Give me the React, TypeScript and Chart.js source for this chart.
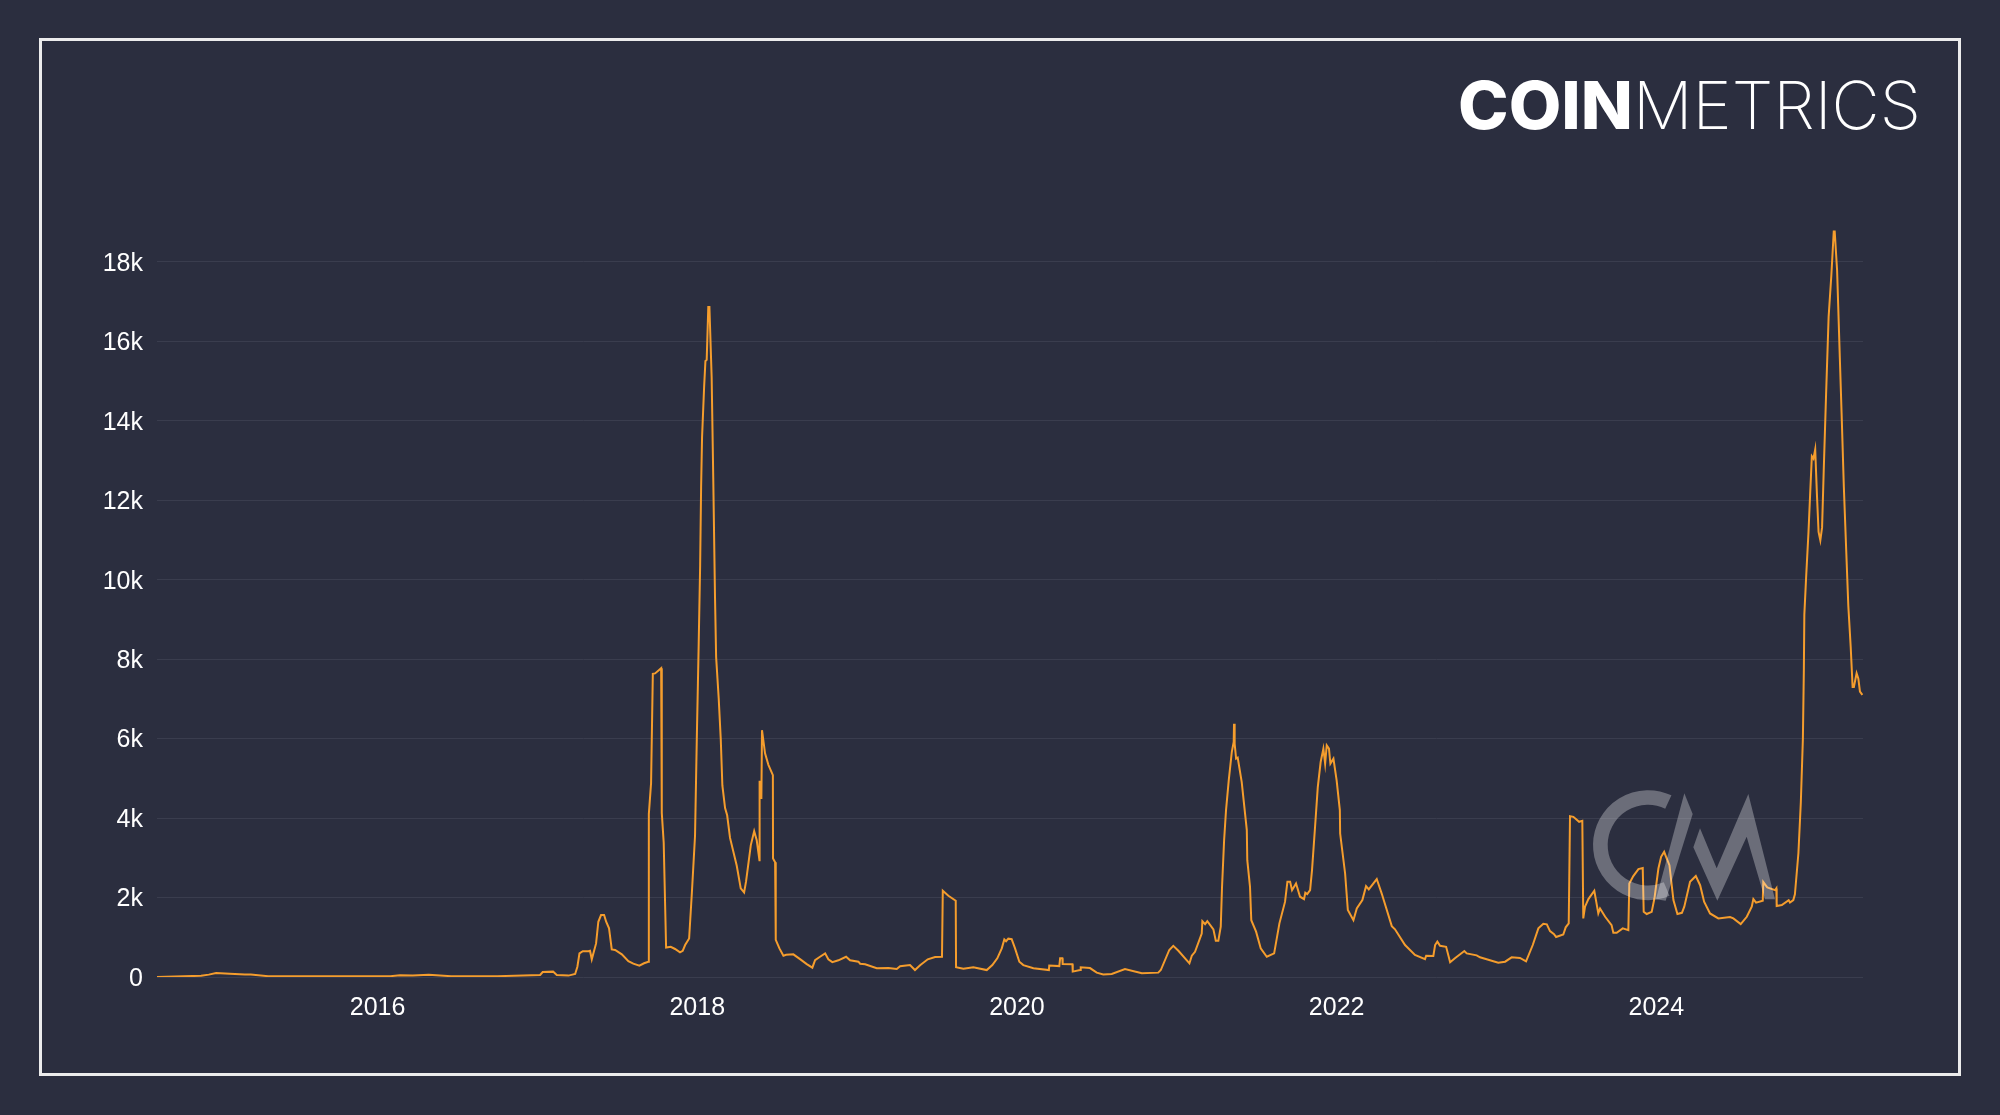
import { useEffect, useRef } from "react";
import { Chart, registerables } from "chart.js";

Chart.register(...registerables);

type Pt = [number, number]; // [decimal year, value]

const flatYears: Pt[] = [
  [2014.62, 0], [2014.896, 30], [2014.944, 60], [2014.99, 100], [2015.075, 80], [2015.17, 60], [2015.207, 65],
  [2015.315, 20], [2016.08, 20], [2016.14, 45], [2016.22, 40], [2016.32, 55], [2016.46, 20], [2016.75, 20],
  [2017.017, 50], [2017.033, 125], [2017.098, 135], [2017.121, 50], [2017.194, 35], [2017.236, 75], [2017.25, 260],
  [2017.263, 595], [2017.284, 650], [2017.319, 650], [2017.329, 660], [2017.34, 445], [2017.367, 845], [2017.381, 1390],
  [2017.398, 1560], [2017.417, 1560], [2017.43, 1390], [2017.448, 1225], [2017.465, 695], [2017.486, 680],
  [2017.528, 570], [2017.569, 400], [2017.6, 335], [2017.638, 285], [2017.667, 345], [2017.694, 385],
];

const boom2018: Pt[] = [
  [2017.697, 4100], [2017.711, 4880], [2017.722, 7630], [2017.736, 7640], [2017.774, 7770], [2017.778, 4130],
  [2017.79, 3380], [2017.805, 740], [2017.834, 760], [2017.861, 705], [2017.892, 620], [2017.909, 660], [2017.924, 805],
  [2017.949, 970], [2017.966, 2100], [2017.986, 3555], [2017.997, 5980], [2018.009, 8400], [2018.018, 10360],
  [2018.024, 12320], [2018.03, 13590], [2018.043, 14860], [2018.051, 15500], [2018.059, 15530], [2018.069, 16860],
  [2018.076, 16860], [2018.09, 15090], [2018.1, 12560], [2018.111, 9560], [2018.118, 8050], [2018.134, 7020],
  [2018.147, 5980], [2018.157, 4820], [2018.174, 4250], [2018.187, 4070], [2018.205, 3500], [2018.247, 2800],
  [2018.272, 2230], [2018.293, 2130], [2018.305, 2400], [2018.335, 3320], [2018.356, 3670], [2018.372, 3440],
  [2018.389, 2940], [2018.39, 4940], [2018.401, 4480], [2018.405, 6210], [2018.424, 5630], [2018.445, 5340],
  [2018.473, 5080], [2018.474, 2980], [2018.487, 2885], [2018.491, 935], [2018.514, 720], [2018.539, 535],
  [2018.556, 560], [2018.601, 570], [2018.643, 450], [2018.685, 325], [2018.72, 235], [2018.737, 425], [2018.768, 510],
  [2018.8, 595], [2018.82, 445], [2018.845, 375], [2018.883, 420], [2018.931, 510], [2018.956, 420], [2019.008, 385],
  [2019.019, 335], [2019.05, 320], [2019.123, 220], [2019.196, 225],
];

const quiet2019: Pt[] = [
  [2019.248, 200], [2019.269, 270], [2019.331, 300], [2019.362, 175], [2019.394, 295], [2019.442, 445], [2019.488, 505],
  [2019.531, 510], [2019.536, 2170], [2019.571, 2045], [2019.617, 1920], [2019.619, 245], [2019.665, 210], [2019.727, 245],
  [2019.811, 175], [2019.846, 300], [2019.877, 470], [2019.905, 720], [2019.921, 945], [2019.932, 900], [2019.946, 965],
  [2019.967, 955], [2019.988, 720], [2020.015, 385], [2020.04, 300], [2020.103, 220], [2020.2, 175], [2020.202, 290],
  [2020.265, 275], [2020.27, 470], [2020.284, 470], [2020.286, 325], [2020.347, 320], [2020.349, 135], [2020.395, 175],
  [2020.399, 245], [2020.457, 225], [2020.499, 110], [2020.54, 65], [2020.593, 75], [2020.676, 200], [2020.781, 95],
  [2020.884, 110],
];

const cycle2021: Pt[] = [
  [2020.9, 175], [2020.953, 680], [2020.978, 785], [2021.01, 660], [2021.079, 345], [2021.094, 535], [2021.114, 635],
  [2021.156, 1095], [2021.16, 1405], [2021.177, 1330], [2021.191, 1405], [2021.229, 1200], [2021.244, 915], [2021.26, 915],
  [2021.275, 1265], [2021.283, 2270], [2021.296, 3440], [2021.308, 4200], [2021.325, 4950], [2021.344, 5660],
  [2021.356, 5915], [2021.358, 6375], [2021.362, 5870], [2021.371, 5495], [2021.381, 5520], [2021.406, 4910],
  [2021.438, 3695], [2021.441, 2940], [2021.458, 2270], [2021.466, 1430], [2021.496, 1140], [2021.525, 720],
  [2021.563, 510], [2021.609, 595], [2021.642, 1350], [2021.677, 1890], [2021.692, 2395], [2021.709, 2395],
  [2021.721, 2185], [2021.746, 2355], [2021.771, 2020], [2021.796, 1960], [2021.804, 2120], [2021.816, 2085],
  [2021.834, 2185], [2021.846, 2690], [2021.865, 3780], [2021.882, 4780], [2021.9, 5410], [2021.917, 5745],
  [2021.928, 5370], [2021.938, 5830], [2021.952, 5745], [2021.961, 5370], [2021.98, 5495], [2022.0, 4950],
  [2022.02, 4200], [2022.022, 3610], [2022.053, 2605], [2022.07, 1685], [2022.105, 1430], [2022.126, 1725],
  [2022.161, 1935], [2022.184, 2285], [2022.201, 2205], [2022.251, 2465], [2022.282, 2100], [2022.345, 1280],
  [2022.365, 1200], [2022.428, 805], [2022.49, 555], [2022.553, 450], [2022.56, 535], [2022.605, 530], [2022.616, 805],
  [2022.63, 890], [2022.647, 785], [2022.685, 760], [2022.71, 370], [2022.74, 470], [2022.799, 655], [2022.814, 595],
  [2022.876, 545], [2022.897, 495], [2023.011, 360],
];

const recovery2023: Pt[] = [
  [2023.054, 385], [2023.095, 495], [2023.147, 480], [2023.185, 395], [2023.227, 805], [2023.262, 1225], [2023.293, 1340],
  [2023.315, 1325], [2023.335, 1155], [2023.36, 1080], [2023.373, 1005], [2023.418, 1070], [2023.433, 1250], [2023.452, 1350],
  [2023.46, 4045], [2023.481, 4030], [2023.517, 3905], [2023.537, 3930], [2023.543, 1475], [2023.554, 1770], [2023.575, 1960],
  [2023.612, 2170], [2023.637, 1600], [2023.648, 1725], [2023.68, 1515], [2023.72, 1305], [2023.731, 1115], [2023.752, 1115],
  [2023.79, 1225], [2023.825, 1180], [2023.831, 2355], [2023.856, 2540], [2023.888, 2715], [2023.915, 2740], [2023.921, 1640],
  [2023.94, 1585], [2023.971, 1640], [2023.988, 1975], [2024.013, 2730], [2024.03, 3025], [2024.049, 3150], [2024.061, 3025],
  [2024.082, 2815], [2024.107, 1935], [2024.132, 1585], [2024.16, 1615], [2024.175, 1770], [2024.211, 2395], [2024.247, 2540],
  [2024.274, 2310], [2024.299, 1895], [2024.336, 1600], [2024.388, 1475], [2024.461, 1510], [2024.482, 1475], [2024.528, 1330],
  [2024.566, 1515], [2024.597, 1770], [2024.607, 1960], [2024.624, 1870], [2024.666, 1920], [2024.669, 2390], [2024.694, 2255],
  [2024.743, 2185], [2024.751, 2230], [2024.753, 1785], [2024.785, 1810], [2024.828, 1935], [2024.836, 1875], [2024.857, 1935],
];

const surge2025: Pt[] = [
  [2024.867, 2080], [2024.889, 3120], [2024.904, 4390], [2024.917, 6005], [2024.923, 7735], [2024.926, 9120], [2024.937, 10045],
  [2024.952, 11200], [2024.962, 12120], [2024.973, 13105], [2024.983, 13045], [2024.994, 13280], [2025.005, 12120],
  [2025.015, 11200], [2025.026, 10990], [2025.037, 11315], [2025.047, 12700], [2025.062, 14660], [2025.078, 16620],
  [2025.095, 17660], [2025.11, 18760], [2025.116, 18760], [2025.131, 17780], [2025.148, 15585], [2025.159, 14200],
  [2025.173, 12350], [2025.188, 10735], [2025.201, 9350], [2025.216, 8310], [2025.228, 7300], [2025.236, 7300],
  [2025.253, 7645], [2025.264, 7505], [2025.274, 7180], [2025.289, 7100],
];

const xTicks = [2016, 2018, 2020, 2022, 2024];
const yTicks = [0, 2000, 4000, 6000, 8000, 10000, 12000, 14000, 16000, 18000];

const BG = "#2b2e3f";

export default function App() {
  const chartRef = useRef<HTMLCanvasElement>(null);

  useEffect(() => {
    if (!chartRef.current) return;

    const points = [...flatYears, ...boom2018, ...quiet2019, ...cycle2021, ...recovery2023, ...surge2025];

    const chart = new Chart(chartRef.current, {
      type: "line",
      data: {
        datasets: [
          {
            data: points.map(([x, y]) => ({ x, y })),
            borderColor: "#f59d2d",
            borderWidth: 2,
            pointRadius: 0,
            tension: 0,
          },
        ],
      },
      options: {
        animation: false,
        responsive: false,
        devicePixelRatio: 1,
        layout: { padding: { left: 0, right: 137, top: 222, bottom: 78 } },
        plugins: { legend: { display: false }, tooltip: { enabled: false } },
        scales: {
          x: {
            type: "linear",
            min: 2014.62,
            max: 2025.293,
            afterBuildTicks: (scale) => {
              scale.ticks = xTicks.map((value) => ({ value }));
            },
            afterFit: (scale) => {
              scale.height = 60;
            },
            grid: { display: false },
            border: { display: false },
            ticks: {
              color: "#ffffff",
              padding: 8,
              maxRotation: 0,
              autoSkip: false,
              font: { family: "'Liberation Sans'", size: 25 },
              callback: (value) => String(value),
            },
          },
          y: {
            min: 0,
            max: 19000,
            afterBuildTicks: (scale) => {
              scale.ticks = yTicks.map((value) => ({ value }));
            },
            afterFit: (scale) => {
              scale.width = 157;
            },
            grid: { color: "#3a3d4e", lineWidth: 1, drawTicks: false },
            border: { display: false },
            ticks: {
              color: "#ffffff",
              padding: 14,
              labelOffset: 2,
              font: { family: "'Liberation Sans'", size: 25 },
              callback: (value) => (Number(value) === 0 ? "0" : `${Number(value) / 1000}k`),
            },
          },
        },
      },
    });

    return () => {
      chart.destroy();
    };
  }, []);

  return (
    <div style={{ position: "fixed", inset: 0, background: BG, overflow: "hidden" }}>
      <canvas ref={chartRef} width={2000} height={1115} style={{ position: "absolute", left: 0, top: 0 }} />

      {/* frame */}
      <div
        style={{
          position: "absolute",
          left: 39,
          top: 38,
          width: 1916,
          height: 1032,
          border: "3px solid #ececec",
        }}
      />

      {/* logo wordmark */}
      <svg width={2000} height={200} style={{ position: "absolute", left: 0, top: 0 }}>
        <text
          x={1458}
          y={129}
          fill="#ffffff"
          fontFamily="Inter, Lato"
          fontWeight={800}
          fontSize={66}
          textLength={175}
          lengthAdjust="spacingAndGlyphs"
        >
          COIN
        </text>
        <text
          x={1633}
          y={129}
          fill="#ffffff"
          fontFamily="Inter, Lato"
          fontWeight={200}
          fontSize={66}
          textLength={288}
          lengthAdjust="spacingAndGlyphs"
        >
          METRICS
        </text>
      </svg>

      {/* watermark sits over the line */}
      <svg
        width={360}
        height={240}
        viewBox="0 0 1080 720"
        style={{ position: "absolute", left: 1500, top: 740 }}
      >
        <path
          d="M 505 186 A 143 143 0 1 0 500 447"
          fill="none"
          stroke="#ffffff"
          strokeOpacity={0.3}
          strokeWidth={44}
        />
        <polygon points="553,160 578,222 497,482 468,478" fill="#ffffff" fillOpacity={0.3} />
        <polygon
          points="600,265 650,385 745,162 825,478 795,478 740,290 652,482 580,322"
          fill="#ffffff"
          fillOpacity={0.3}
        />
      </svg>
    </div>
  );
}
